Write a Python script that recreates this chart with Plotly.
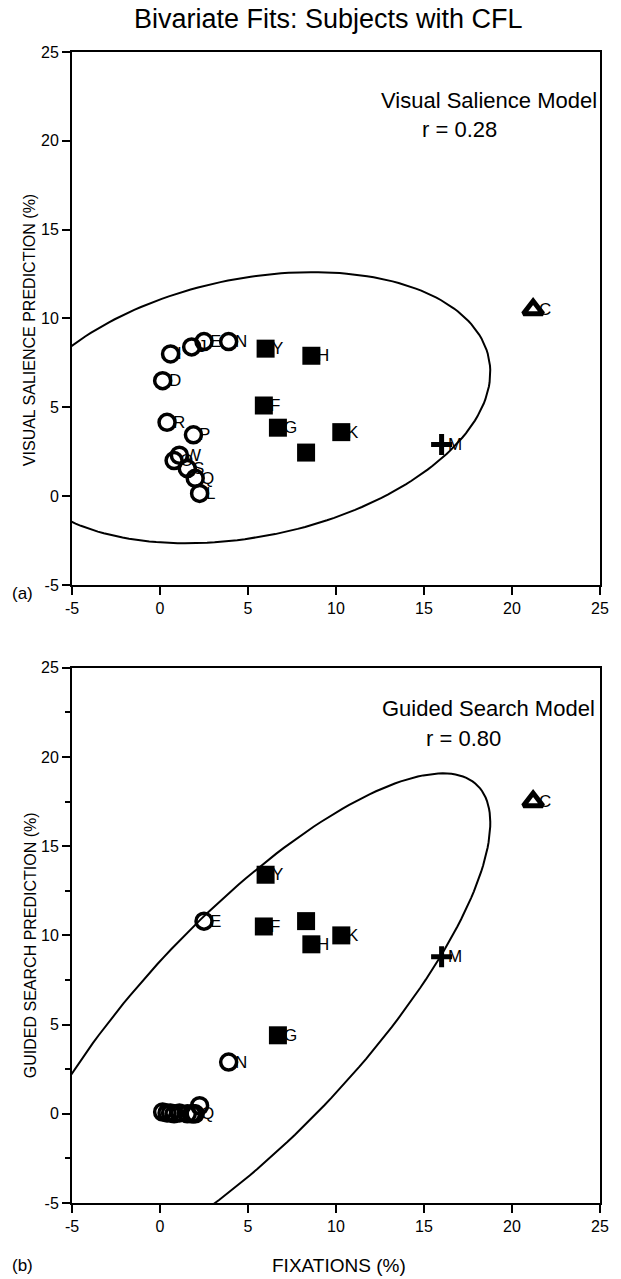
import numpy as np
import plotly.graph_objects as go

# ---- data ----
subjects = ["I", "J", "E", "N", "D", "R", "P", "O", "W", "S", "Q", "L",
            "Y", "H", "F", "G", "K", "U", "C", "M"]
groups = ["circle"] * 12 + ["square"] * 6 + ["triangle", "plus"]
fixations = [0.6, 1.8, 2.5, 3.9, 0.15, 0.4, 1.9, 0.8, 1.1, 1.55, 2.0, 2.25,
             6.0, 8.6, 5.9, 6.7, 10.3, 8.3, 21.2, 16.0]
salience_pred = [8.0, 8.4, 8.7, 8.7, 6.5, 4.15, 3.45, 2.0, 2.3, 1.55, 1.0, 0.15,
                 8.3, 7.9, 5.1, 3.85, 3.6, 2.45, 10.5, 2.9]
guided_pred = [0.05, 0.0, 10.8, 2.9, 0.1, 0.05, 0.0, 0.0, 0.05, 0.0, 0.0, 0.45,
               13.4, 9.5, 10.5, 4.4, 10.0, 10.8, 17.5, 8.8]
labels_top = ["I", "J", "E", "N", "D", "R", "P", "O", "W", "S", "Q", "L",
              "Y", "H", "F", "G", "K", "", "C", "M"]
labels_bottom = ["", "", "E", "N", "", "", "", "", "", "", "Q", "",
                 "Y", "H", "F", "G", "K", "", "C", "M"]
axis_ticks = [-5, 0, 5, 10, 15, 20, 25]
ellipse_prob_chi2 = 5.991  # 95% density ellipse (chi-square, 2 df)

FONT = "Liberation Sans, Arial, Helvetica, sans-serif"

marker_styles = {
    "circle": dict(symbol="circle-open", size=16, line=dict(width=3.5, color="black"), color="black"),
    "square": dict(symbol="square", size=18, color="black", line=dict(width=0)),
    "triangle": dict(symbol="triangle-up-open", size=17, line=dict(width=5, color="black"), color="black"),
    "plus": dict(symbol="cross-thin-open", size=15, line=dict(width=5, color="black"), color="black"),
}


def density_ellipse(x, y, chi2, n=200):
    x = np.asarray(x, float)
    y = np.asarray(y, float)
    cov = np.cov(x, y)
    vals, vecs = np.linalg.eigh(cov)
    t = np.linspace(0, 2 * np.pi, n)
    circ = np.vstack([np.cos(t), np.sin(t)])
    pts = vecs @ (np.sqrt(vals * chi2)[:, None] * circ)
    return pts[0] + x.mean(), pts[1] + y.mean()


fig = go.Figure()
ann = []

panels = [
    ("x", "y", salience_pred, labels_top),
    ("x2", "y2", guided_pred, labels_bottom),
]

for xa, ya, yvals, labs in panels:
    ex, ey = density_ellipse(fixations, yvals, ellipse_prob_chi2)
    fig.add_trace(go.Scatter(x=ex, y=ey, mode="lines", xaxis=xa, yaxis=ya,
                             line=dict(color="black", width=2), hoverinfo="skip",
                             showlegend=False))
    for g in ["circle", "square", "triangle", "plus"]:
        idx = [i for i, gg in enumerate(groups) if gg == g]
        fig.add_trace(go.Scatter(
            x=[fixations[i] for i in idx],
            y=[yvals[i] for i in idx],
            mode="markers", marker=marker_styles[g], xaxis=xa, yaxis=ya,
            showlegend=False, cliponaxis=False))
    for i, lab in enumerate(labs):
        if lab:
            ann.append(dict(text=lab, x=fixations[i], y=yvals[i], xref=xa, yref=ya,
                            xanchor="left", yanchor="middle", xshift=4, showarrow=False,
                            font=dict(family=FONT, size=17, color="black")))

axis_common = dict(range=[-5, 25], tickvals=axis_ticks, ticktext=[str(v) for v in axis_ticks],
                   showgrid=False, zeroline=False, showline=True, linecolor="black",
                   linewidth=2, mirror=True, ticks="outside", ticklen=8, tickwidth=2,
                   tickcolor="black", tickfont=dict(family=FONT, size=16, color="black"))

top_dom = [0.537, 1.0]
bot_dom = [0.0, 0.465]

fig.update_layout(
    width=621, height=1279,
    margin=dict(l=72, r=19, t=52, b=76),
    paper_bgcolor="white", plot_bgcolor="white",
    xaxis=dict(axis_common, domain=[0, 1], anchor="y"),
    yaxis=dict(axis_common, domain=top_dom, anchor="x"),
    xaxis2=dict(axis_common, domain=[0, 1], anchor="y2"),
    yaxis2=dict(axis_common, domain=bot_dom, anchor="x2",
                minor=dict(ticks="outside", dtick=2.5, ticklen=5, tickwidth=1.5, tickcolor="black")),
    showlegend=False,
)


def py(pix):
    return (1203 - pix) / 1151.0


def px(pix):
    return (pix - 72) / 530.0


def txt(text, x, y, size, angle=0):
    return dict(text=text, x=px(x), y=py(y), xref="paper", yref="paper",
                xanchor="center", yanchor="middle", showarrow=False, textangle=angle,
                font=dict(family=FONT, size=size, color="black"))


ann += [
    txt("Bivariate Fits: Subjects with CFL", 329, 19, 27),
    txt("Visual Salience Model", 491, 100, 22),
    txt("r = 0.28", 461, 130, 22),
    txt("Guided Search Model", 490, 708, 22),
    txt("r = 0.80", 465, 738, 22),
    txt("VISUAL SALIENCE PREDICTION (%)", 30, 330, 16, -90),
    txt("GUIDED SEARCH PREDICTION (%)", 30, 945, 16, -90),
    txt("(a)", 22, 593, 17),
    txt("(b)", 22, 1265, 17),
    txt("FIXATIONS (%)", 340, 1265, 19),
]
fig.update_layout(annotations=ann)

fig.write_html("out.html")
